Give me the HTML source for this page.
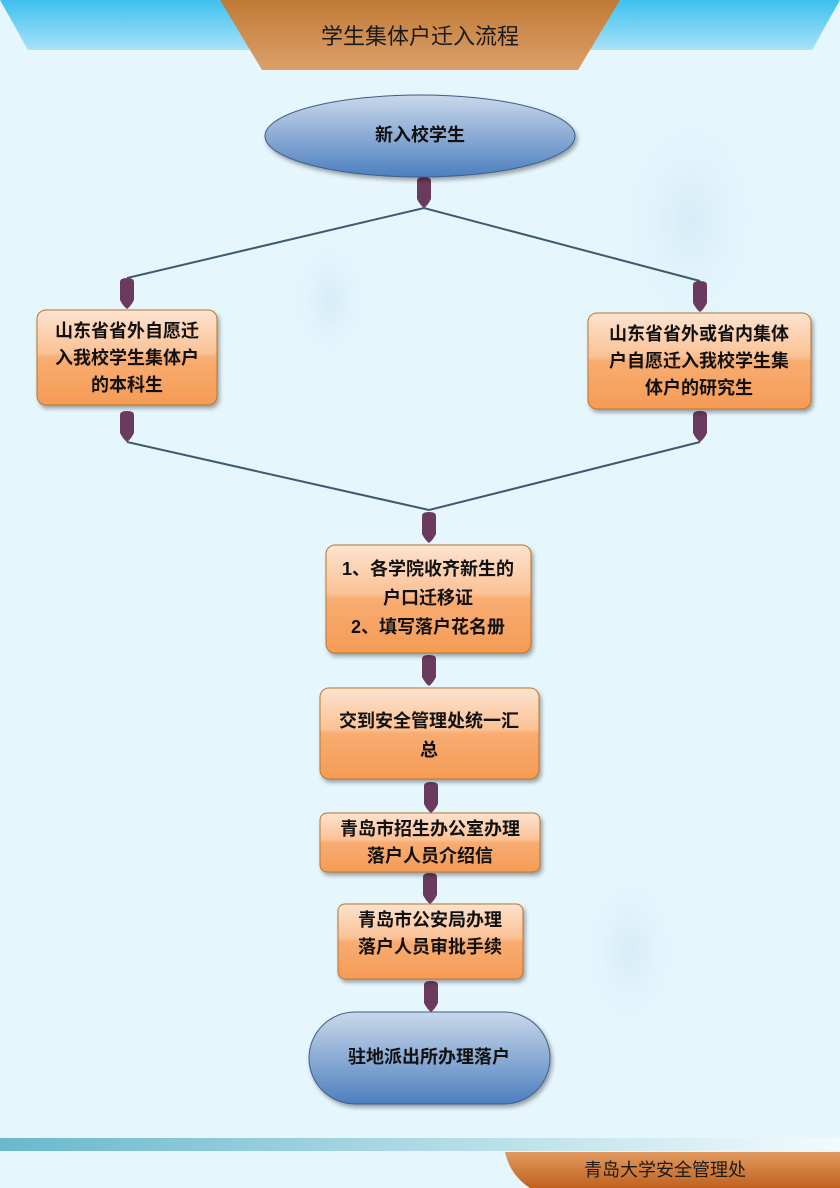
<!DOCTYPE html>
<html><head><meta charset="utf-8"><style>
html,body{margin:0;padding:0}
body{width:840px;height:1188px;overflow:hidden;background:#e6f6fd;font-family:"Liberation Sans","Noto Sans CJK SC",sans-serif}
</style></head><body>
<svg width="840" height="1188" viewBox="0 0 840 1188" xmlns="http://www.w3.org/2000/svg" style="position:absolute;left:0;top:0">
<defs>
<linearGradient id="blue" x1="0" y1="0" x2="0" y2="1"><stop offset="0" stop-color="#3ec0ee"/><stop offset="1" stop-color="#a8e2f8"/></linearGradient>
<linearGradient id="tor" x1="0" y1="0" x2="0" y2="1"><stop offset="0" stop-color="#c07a36"/><stop offset="1" stop-color="#dba06a"/></linearGradient>
<linearGradient id="ell" x1="0" y1="0" x2="0" y2="1"><stop offset="0" stop-color="#c9d8ea"/><stop offset="1" stop-color="#4d7fbf"/></linearGradient>
<linearGradient id="box" x1="0" y1="0" x2="0" y2="1"><stop offset="0" stop-color="#fde3cf"/><stop offset="0.45" stop-color="#fbc296"/><stop offset="0.5" stop-color="#f8ad72"/><stop offset="1" stop-color="#f59b55"/></linearGradient>
<linearGradient id="strip" x1="0" y1="0" x2="1" y2="0"><stop offset="0" stop-color="#6ab8cc"/><stop offset="1" stop-color="#f2fbfd"/></linearGradient>
<linearGradient id="foot" x1="0" y1="0" x2="0" y2="1"><stop offset="0" stop-color="#e29a60"/><stop offset="1" stop-color="#c0621f"/></linearGradient>
<radialGradient id="bg1" cx="0.5" cy="0.5" r="0.5"><stop offset="0" stop-color="#d6ecf7"/><stop offset="1" stop-color="#e6f6fd" stop-opacity="0"/></radialGradient>
<filter id="sh" x="-10%" y="-10%" width="130%" height="140%"><feDropShadow dx="2" dy="3" stdDeviation="2" flood-color="#000" flood-opacity="0.35"/></filter>
<g id="peg"><path d="M-7,4 Q-7,0 0,0 Q7,0 7,4 L7,22 Q4,28 0,31 Q-4,28 -7,22 Z" fill="#6a3b5f"/></g>
</defs>
<ellipse cx="330" cy="300" rx="50" ry="75" fill="url(#bg1)"/>
<ellipse cx="690" cy="220" rx="90" ry="140" fill="url(#bg1)"/>
<ellipse cx="630" cy="950" rx="60" ry="100" fill="url(#bg1)"/>
<!-- top banner -->
<polygon points="0,0 840,0 812,50 28,50" fill="url(#blue)"/>
<polygon points="220,0 620,0 578,70 262,70" fill="url(#tor)"/>
<text x="420" y="44" text-anchor="middle" font-size="22" fill="#1a1a1a">学生集体户迁入流程</text>
<!-- lines -->
<g stroke="#3e5a6e" stroke-width="2" fill="none">
<polyline points="127,278 424,208 700,281"/>
<polyline points="127,442 429,510 700,442"/>
</g>
<!-- pegs -->
<use href="#peg" x="424" y="177"/>
<use href="#peg" x="127" y="278"/>
<use href="#peg" x="700" y="281"/>
<use href="#peg" x="127" y="411"/>
<use href="#peg" x="700" y="411"/>
<use href="#peg" x="429" y="512"/>
<use href="#peg" x="429" y="655"/>
<use href="#peg" x="431" y="782"/>
<use href="#peg" x="430" y="873"/>
<use href="#peg" x="431" y="981"/>
<!-- ellipse -->
<ellipse cx="420" cy="136" rx="155" ry="41" fill="url(#ell)" stroke="#3d5f8a" stroke-width="1" filter="url(#sh)"/>
<text x="420" y="141" text-anchor="middle" font-size="18" font-weight="bold" fill="#111">新入校学生</text>
<!-- boxes -->
<g filter="url(#sh)" stroke="#b8782f" stroke-width="1" fill="url(#box)">
<rect x="37" y="310" width="180" height="95" rx="9"/>
<rect x="588" y="313" width="223" height="96" rx="9"/>
<rect x="326" y="545" width="205" height="108" rx="9"/>
<rect x="320" y="688" width="219" height="91" rx="9"/>
<rect x="320" y="813" width="220" height="59" rx="7"/>
<rect x="338" y="904" width="185" height="75" rx="7"/>
</g>
<g font-size="18" font-weight="bold" fill="#111" text-anchor="middle">
<text x="127" y="337">山东省省外自愿迁</text>
<text x="127" y="364">入我校学生集体户</text>
<text x="127" y="391">的本科生</text>
<text x="699" y="340">山东省省外或省内集体</text>
<text x="699" y="367">户自愿迁入我校学生集</text>
<text x="699" y="394">体户的研究生</text>
<text x="428" y="575">1、各学院收齐新生的</text>
<text x="428" y="604">户口迁移证</text>
<text x="428" y="633">2、填写落户花名册</text>
<text x="429" y="727">交到安全管理处统一汇</text>
<text x="429" y="756">总</text>
<text x="430" y="835">青岛市招生办公室办理</text>
<text x="430" y="862">落户人员介绍信</text>
<text x="430" y="926">青岛市公安局办理</text>
<text x="430" y="953">落户人员审批手续</text>
</g>
<!-- bottom stadium -->
<rect x="309" y="1012" width="241" height="92" rx="46" fill="url(#ell)" stroke="#3d5f8a" stroke-width="1" filter="url(#sh)"/>
<text x="429" y="1063" text-anchor="middle" font-size="18" font-weight="bold" fill="#111">驻地派出所办理落户</text>
<!-- footer -->
<rect x="0" y="1138" width="840" height="13" fill="url(#strip)"/>
<path d="M505,1152 L840,1152 L840,1188 L530,1188 Q510,1175 505,1152 Z" fill="url(#foot)"/>
<text x="665" y="1176" text-anchor="middle" font-size="18" fill="#1a1a1a">青岛大学安全管理处</text>
</svg>
</body></html>
